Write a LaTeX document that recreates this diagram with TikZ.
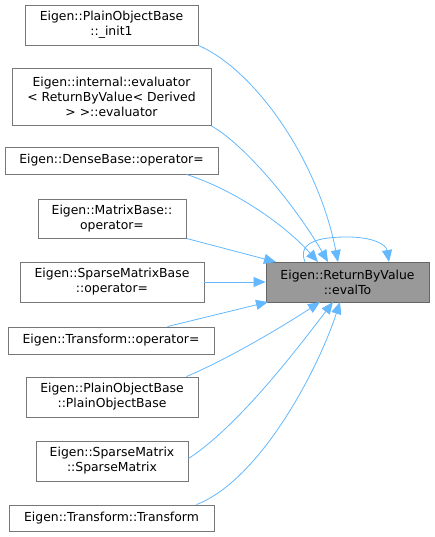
\documentclass[tikz,border=0pt]{standalone}
\usepackage{fontspec}
\setmainfont{DejaVu Sans}
\usetikzlibrary{arrows.meta}
\definecolor{edgeblue}{HTML}{63B8FF}
\definecolor{boxline}{HTML}{777777}
\definecolor{rootfill}{HTML}{999999}
\definecolor{rootline}{HTML}{666666}
\tikzset{
  box/.style={draw=boxline, line width=0.9pt, fill=white, inner sep=0pt, align=center,
    font=\fontsize{12.4}{15}\selectfont},
  rootbox/.style={box, draw=rootline, fill=rootfill},
  edge/.style={draw=edgeblue, line width=0.8pt, -{Triangle[length=12pt,width=10pt]}},
}
\begin{document}
\begin{tikzpicture}[x=1pt,y=-1pt]
\useasboundingbox (0,0) rectangle (435,537);
\node[box, minimum width=173, minimum height=40] (n1) at (111.5,25) {Eigen::PlainObjectBase\\::\_init1};
\node[box, minimum width=199, minimum height=57] (n2) at (111.5,96.5) {Eigen::internal::evaluator\\< ReturnByValue< Derived\\> >::evaluator};
\node[box, minimum width=213, minimum height=27] (n3) at (111.5,160.5) {Eigen::DenseBase::operator=};
\node[box, minimum width=148, minimum height=39] (n4) at (112,218.5) {Eigen::MatrixBase::\\operator=};
\node[box, minimum width=184, minimum height=40] (n5) at (112,282) {Eigen::SparseMatrixBase\\::operator=};
\node[box, minimum width=206, minimum height=27] (n6) at (111,340.5) {Eigen::Transform::operator=};
\node[box, minimum width=172, minimum height=40] (n7) at (112,397) {Eigen::PlainObjectBase\\::PlainObjectBase};
\node[box, minimum width=152, minimum height=40] (n8) at (112,461) {Eigen::SparseMatrix\\::SparseMatrix};
\node[box, minimum width=205, minimum height=26] (n9) at (111.5,518) {Eigen::Transform::Transform};
\node[rootbox, minimum width=163, minimum height=40] (t) at (347.5,282) {Eigen::ReturnByValue\\::evalTo};

\coordinate (t1) at (338,262);
\coordinate (t2) at (328,262);
\coordinate (t3) at (318,262);
\coordinate (t4) at (276,262);
\coordinate (t6) at (268,302);
\coordinate (t7) at (320,302);
\coordinate (t8) at (333,302);
\coordinate (t9) at (340,302);
\coordinate (ls) at (305,262);
\coordinate (lm) at (347,237);
\coordinate (le) at (389,262);

\draw[edge] (n1.south east) .. controls (255,70) and (318,160) .. (t1);
\draw[edge] ([yshift=-0.5pt]n2.south east) .. controls (245,145) and (295,205) .. (t2);
\draw[edge] ([xshift=-32pt]n3.south east) .. controls (235,190) and (285,225) .. (t3);
\draw[edge] (n4.south east) -- (t4);
\draw[edge] (n5.east) -- (t.west);
\draw[edge] ([xshift=-47pt]n6.north east) -- (t6);
\draw[edge] ([xshift=-12pt]n7.north east) .. controls (230,358) and (285,325) .. (t7);
\draw[edge] ([yshift=-18pt]n8.north east) .. controls (240,425) and (300,345) .. (t8);
\draw[edge] ([xshift=-18pt]n9.north east) .. controls (260,480) and (318,370) .. (t9);
\draw[edge] (ls) .. controls (296,240) and (325,237) .. (lm) .. controls (372,237) and (386,244) .. (le);
\end{tikzpicture}
\end{document}
